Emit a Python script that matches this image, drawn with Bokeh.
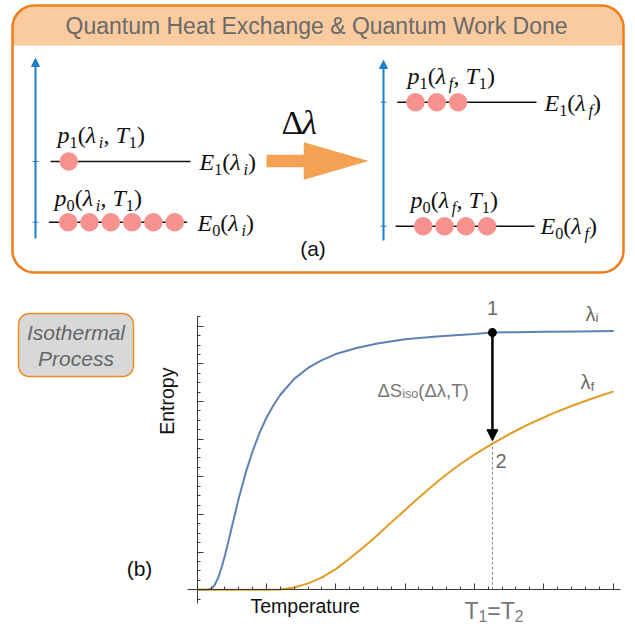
import numpy as np
from bokeh.plotting import figure
from bokeh.layouts import column
from bokeh.models import (Range1d, LinearAxis, SingleIntervalTicker, Arrow, NormalHead,
                          CustomJSTickFormatter)
from bokeh.core.properties import value
from bokeh.embed import file_html
from bokeh.resources import INLINE

# ---------------- data ----------------
# entropy curves (panel b)
T_blue = [0.0, 0.15, 0.2, 0.25, 0.3, 0.35, 0.4, 0.45, 0.5, 0.6, 0.7, 0.8, 0.9, 1.0, 1.1, 1.2,
          1.4, 1.6, 1.8, 2.0, 2.3, 2.6, 3.0, 3.5, 4.0, 4.26, 4.6, 5.0, 5.5, 6.01]
S_blue = [0.0, 0.0, 0.003, 0.012, 0.031, 0.058, 0.091, 0.128, 0.167, 0.243, 0.311, 0.368, 0.417,
          0.457, 0.490, 0.518, 0.560, 0.589, 0.610, 0.626, 0.642, 0.654, 0.665, 0.673, 0.679,
          0.683, 0.684, 0.685, 0.686, 0.687]
T_orange = [0.0, 1.0, 1.2, 1.4, 1.6, 1.8, 2.0, 2.2, 2.4, 2.6, 2.8, 3.0, 3.2, 3.4, 3.6, 3.8, 4.0,
            4.26, 4.5, 4.8, 5.1, 5.4, 5.7, 6.01]
S_orange = [0.0, 0.0, 0.001, 0.006, 0.017, 0.033, 0.055, 0.083, 0.113, 0.145, 0.179, 0.212, 0.245,
            0.277, 0.307, 0.334, 0.359, 0.388, 0.413, 0.441, 0.466, 0.488, 0.508, 0.527]
T1 = 4.26
S_point1 = 0.683
S_point2 = 0.388

# occupations of the two levels (panel a): [E0, E1]
occ_initial = [6, 1]
occ_final = [4, 3]

TITLE = "Quantum Heat Exchange & Quantum Work Done"

# ---------------- styles ----------------
BLUE = "#5E81B5"
ORANGE = "#E19C24"
ARROW_BLUE = "#1F7EC6"
DOT = "#F7928E"
BOX_ORANGE = "#EF7D1B"
BAND = "#F9CB9F"
BIG_ARROW = "#F5A153"
GRAY = "#6A6A6A"
SERIF = "Liberation Serif"
SANS = "Liberation Sans"

W_SERIF = {'p': .5, 'E': .611, 'T': .556, 'λ': .55, '(': .333, ')': .333, ',': .25, ' ': .25,
           '0': .5, '1': .5, '2': .5, 'i': .278, 'f': .278, 'Δ': .612}
W_SANS = {'T': .611, '1': .556, '2': .556, '=': .584, 'Δ': .668, 'S': .667, 'i': .222, 's': .5,
          'o': .556, '(': .333, ')': .333, 'λ': .5, ',': .278, 'f': .278}


def rich(p, x, y, segs, size, font, color, widths, sub_scale=0.68, sub_drop=0.33, **kw):
    """Place segments one after another; y is the visual middle of the main text."""
    cx = x
    for txt, kind in segs:
        sub = kind.startswith('s')
        ital = kind.endswith('i')
        fs = size * sub_scale if sub else size
        yy = y + (sub_drop * size if sub else 0)
        p.text(x=[cx], y=[yy], text=[txt], text_font=value(font), text_font_size=f"{fs:.1f}px",
               text_font_style="italic" if ital else "normal", text_color=color,
               text_align="left", text_baseline="middle", **kw)
        cx += sum(widths.get(c, 0.5) for c in txt) * fs


def rrect(x0, y0, x1, y1, r, top=True, bottom=True, n=14):
    xs, ys = [], []

    def arc(cx, cy, a0, a1):
        a = np.linspace(a0, a1, n)
        xs.extend(cx + r * np.cos(a))
        ys.extend(cy + r * np.sin(a))
    if top:
        arc(x0 + r, y0 + r, np.pi, 1.5 * np.pi)
        arc(x1 - r, y0 + r, 1.5 * np.pi, 2 * np.pi)
    else:
        xs.extend([x0, x1]); ys.extend([y0, y0])
    if bottom:
        arc(x1 - r, y1 - r, 0, 0.5 * np.pi)
        arc(x0 + r, y1 - r, 0.5 * np.pi, np.pi)
    else:
        xs.extend([x1, x0]); ys.extend([y1, y1])
    return xs, ys


# ================= panel (a) =================
pa = figure(width=635, height=280, x_range=Range1d(0, 635), y_range=Range1d(280, 0),
            output_backend="svg", toolbar_location=None, x_axis_location=None,
            y_axis_location=None, min_border=0, outline_line_color=None)
pa.grid.visible = False

bx, by = rrect(12, 5, 623, 272, 22)
pa.patch(bx, by, fill_color="white", line_color=None)
tx, ty = rrect(12, 5, 623, 45, 22, bottom=False)
pa.patch(tx, ty, fill_color=BAND, line_color=None)
pa.patch(bx, by, fill_color=None, line_color=BOX_ORANGE, line_width=2.5)
pa.text(x=[316], y=[25], text=[TITLE], text_font=value(SANS), text_font_size="23px",
        text_color=GRAY, text_align="center", text_baseline="middle")

# level diagrams (layout constants)
diagrams = [
    dict(occ=occ_initial, axis_x=35, axis_y=(238, 58), lev_y=[221.7, 161.0],
         lines=[(48.3, 186.7), (50.0, 190.0)], dot0=[67.7, 68.3], sub="i",
         plab=[(54, 197), (57, 134)], elab=[(197, 222), (199, 161)]),
    dict(occ=occ_final, axis_x=383, axis_y=(240, 60), lev_y=[225.7, 101.7],
         lines=[(395.0, 534.0), (396.7, 536.0)], dot0=[422.7, 415.0], sub="f",
         plab=[(410, 199), (407, 75)], elab=[(540, 225), (544, 102)]),
]
STEP = 21.3
for d in diagrams:
    ax = d["axis_x"]
    pa.add_layout(Arrow(end=NormalHead(size=8, fill_color=ARROW_BLUE, line_color=ARROW_BLUE),
                        x_start=ax, y_start=d["axis_y"][0], x_end=ax, y_end=d["axis_y"][1],
                        line_color=ARROW_BLUE, line_width=2))
    for lvl in (0, 1):
        ly = d["lev_y"][lvl]
        pa.segment(x0=[ax - 3], y0=[ly], x1=[ax + 3], y1=[ly], line_color=ARROW_BLUE, line_width=1)
        x0, x1 = d["lines"][lvl]
        pa.segment(x0=[x0], y0=[ly], x1=[x1], y1=[ly], line_color="#111111", line_width=1.6)
        n = d["occ"][lvl]
        xs = [d["dot0"][lvl] + k * STEP for k in range(n)]
        pa.scatter(xs, [ly] * n, size=18.5, fill_color=DOT, line_color=None)
        s = d["sub"]
        px_, py_ = d["plab"][lvl]
        rich(pa, px_, py_, [("p", "i"), (str(lvl), "sn"), ("(", "n"), ("λ", "i"), (s, "si"),
                            (", ", "n"), ("T", "i"), ("1", "sn"), (")", "n")],
             24, SERIF, "#111111", W_SERIF)
        ex_, ey_ = d["elab"][lvl]
        rich(pa, ex_, ey_, [("E", "i"), (str(lvl), "sn"), ("(", "n"), ("λ", "i"), (s, "si"),
                            (")", "n")], 24, SERIF, "#111111", W_SERIF)

# big orange arrow and Δλ
pa.patch([266, 303.3, 303.3, 368.3, 303.3, 303.3, 266], [154.3, 154.3, 141.7, 160.5, 179.3, 166.7, 166.7],
         fill_color=BIG_ARROW, line_color=None)
rich(pa, 281, 122, [("Δ", "n"), ("λ", "i")], 34, SERIF, "#111111", W_SERIF)
pa.text(x=[312.5], y=[248], text=["(a)"], text_font=value(SANS), text_font_size="21px",
        text_color="#111111", text_align="center", text_baseline="middle")

# ================= panel (b) =================
X0, XS = 196.7, 69.3      # pixel of T=0, pixels per unit T
Y0, YS = 589.3, 376.6     # pixel of S=0, pixels per unit S
pb = figure(width=635, height=344, output_backend="svg", toolbar_location=None,
            x_range=Range1d(-X0 / XS, (635 - X0) / XS),
            y_range=Range1d(-(624 - Y0) / YS, (Y0 - 280) / YS),
            x_axis_location=None, y_axis_location=None, min_border=0, outline_line_color=None)
pb.grid.visible = False
pb.extra_x_ranges = {"px": Range1d(0, 635)}
pb.extra_y_ranges = {"px": Range1d(624, 280)}
PX = dict(x_range_name="px", y_range_name="px")

AX = "#3A3A3A"
blank = CustomJSTickFormatter(code="return ''")
xa = LinearAxis(fixed_location=0, bounds=(-0.135, 6.108),
                ticker=SingleIntervalTicker(interval=1, num_minor_ticks=5), formatter=blank,
                major_label_text_font_size="1px", major_label_standoff=0,
                major_tick_in=6, major_tick_out=0, minor_tick_in=3, minor_tick_out=0,
                axis_line_color=AX, major_tick_line_color=AX, minor_tick_line_color=AX)
ya = LinearAxis(fixed_location=0, bounds=(-0.0356, 0.726),
                ticker=SingleIntervalTicker(interval=0.1, num_minor_ticks=4), formatter=blank,
                major_label_text_font_size="1px", major_label_standoff=0,
                major_tick_in=6, major_tick_out=0, minor_tick_in=3, minor_tick_out=0,
                axis_line_color=AX, major_tick_line_color=AX, minor_tick_line_color=AX)
pb.add_layout(xa, "below")
pb.add_layout(ya, "left")

pb.line(T_blue, S_blue, line_color=BLUE, line_width=2)
pb.line(T_orange, S_orange, line_color=ORANGE, line_width=2)
pb.segment(x0=[T1], y0=[0], x1=[T1], y1=[S_point2], line_color="#888888", line_width=1,
           line_dash="3 2")
pb.add_layout(Arrow(end=NormalHead(size=11, fill_color="black", line_color="black"),
                    x_start=T1, y_start=S_point1, x_end=T1, y_end=S_point2 + 0.008,
                    line_color="black", line_width=2.5))
pb.scatter([T1], [S_point1], size=9, fill_color="black", line_color=None)

# annotations
pb.text(x=[492], y=[307], text=["1"], text_font=value(SANS), text_font_size="20px",
        text_color=GRAY, text_align="center", text_baseline="middle", **PX)
pb.text(x=[495], y=[460], text=["2"], text_font=value(SANS), text_font_size="20px",
        text_color=GRAY, text_align="left", text_baseline="middle", **PX)
rich(pb, 585, 313, [("λ", "n"), ("i", "sn")], 20, SANS, GRAY, W_SANS, sub_drop=0.2, **PX)
rich(pb, 580, 381.5, [("λ", "n"), ("f", "sn")], 20, SANS, GRAY, W_SANS, sub_drop=0.2, **PX)
rich(pb, 377, 389.5, [("ΔS", "n"), ("iso", "sn"), ("(Δλ,T)", "n")], 18.5, SANS, "#777777",
     W_SANS, sub_drop=0.22, **PX)
rich(pb, 464, 610, [("T", "n"), ("1", "sn"), ("=", "n"), ("T", "n"), ("2", "sn")], 23, SANS,
     "#777777", W_SANS, sub_drop=0.25, **PX)
pb.text(x=[250], y=[605], text=["Temperature"], text_font=value(SANS), text_font_size="19.5px",
        text_color="#111111", text_align="left", text_baseline="middle", **PX)
pb.text(x=[(166.7 - X0) / XS], y=[(Y0 - 400.7) / YS], text=["Entropy"], angle=np.pi / 2,
        text_font=value(SANS), text_font_size="19.5px", text_color="#111111",
        text_align="center", text_baseline="middle")
pb.text(x=[139], y=[568], text=["(b)"], text_font=value(SANS), text_font_size="21px",
        text_color="#111111", text_align="center", text_baseline="middle", **PX)

ix, iy = rrect(18, 313, 133, 376, 11)
pb.patch(ix, iy, fill_color="#D8D8D8", line_color="#F08A24", line_width=1.5, **PX)
pb.text(x=[75.5, 75.5], y=[332, 358], text=["Isothermal", "Process"], text_font=value(SANS),
        text_font_size="21px", text_font_style="italic", text_color="#666666",
        text_align="center", text_baseline="middle", **PX)

layout = column(pa, pb, spacing=0)
open("out.html", "w").write(file_html(layout, INLINE))
